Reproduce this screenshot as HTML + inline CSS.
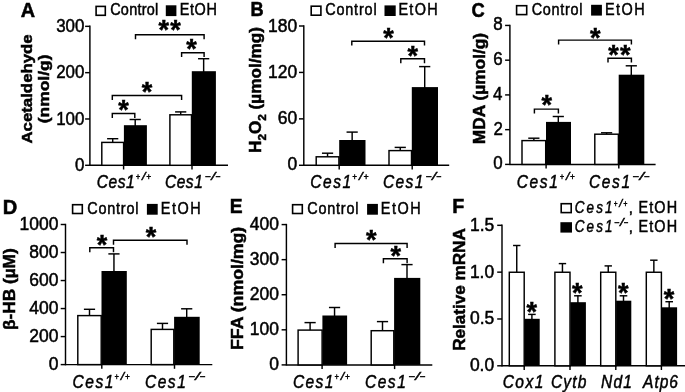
<!DOCTYPE html>
<html><head><meta charset="utf-8"><title>Figure</title>
<style>
html,body{margin:0;padding:0;background:#fff;}
svg{display:block;will-change:transform;}
text{font-family:"Liberation Sans",sans-serif;fill:#000;stroke:#000;stroke-width:0.5;}
.b{font-weight:bold;}
.i{font-style:italic;}
</style></head><body>
<svg width="685" height="392" viewBox="0 0 685 392" stroke="#000" fill="none">
<rect x="0" y="0" width="685" height="392" fill="#fff" stroke="none"/>
<text x="20.70" y="16.60" font-size="19.3" class="b" textLength="14.34" lengthAdjust="spacingAndGlyphs">A</text>
<rect x="96.10" y="6.40" width="9.20" height="8.90" fill="#fff" stroke-width="1.6"/>
<text transform="translate(110.18,15.20) scale(0.87,1)" font-size="16.6" letter-spacing="0.311">Control</text>
<rect x="166.60" y="6.10" width="9.00" height="9.20" fill="#000" stroke-width="1.6"/>
<text transform="translate(179.71,15.20) scale(0.87,1)" font-size="16.6" letter-spacing="0.717">EtOH</text>
<line x1="89.90" y1="25.62" x2="89.90" y2="166.03" stroke-width="1.45"/>
<line x1="85.10" y1="165.30" x2="89.90" y2="165.30" stroke-width="1.45"/>
<text x="75.04" y="171.10" font-size="18" textLength="9.41" lengthAdjust="spacingAndGlyphs">0</text>
<line x1="85.10" y1="118.98" x2="89.90" y2="118.98" stroke-width="1.45"/>
<text x="56.22" y="124.68" font-size="18" textLength="28.23" lengthAdjust="spacingAndGlyphs">100</text>
<line x1="85.10" y1="72.66" x2="89.90" y2="72.66" stroke-width="1.45"/>
<text x="56.22" y="78.26" font-size="18" textLength="28.23" lengthAdjust="spacingAndGlyphs">200</text>
<line x1="85.10" y1="26.34" x2="89.90" y2="26.34" stroke-width="1.45"/>
<text x="56.22" y="31.84" font-size="18" textLength="28.23" lengthAdjust="spacingAndGlyphs">300</text>
<line x1="89.90" y1="165.30" x2="228.00" y2="165.30" stroke-width="1.45"/>
<line x1="123.60" y1="165.30" x2="123.60" y2="169.50" stroke-width="1.45"/>
<line x1="192.00" y1="165.30" x2="192.00" y2="169.50" stroke-width="1.45"/>
<line x1="112.70" y1="138.70" x2="112.70" y2="143.30" stroke-width="1.45"/>
<line x1="107.10" y1="138.70" x2="118.30" y2="138.70" stroke-width="1.45"/>
<rect x="101.80" y="142.40" width="21.80" height="22.90" fill="#fff" stroke-width="1.45"/>
<line x1="135.20" y1="119.50" x2="135.20" y2="126.20" stroke-width="1.45"/>
<line x1="129.60" y1="119.50" x2="140.80" y2="119.50" stroke-width="1.45"/>
<rect x="123.90" y="125.20" width="23.00" height="40.10" fill="#000" stroke="none"/>
<line x1="180.70" y1="111.90" x2="180.70" y2="115.70" stroke-width="1.45"/>
<line x1="175.10" y1="111.90" x2="186.30" y2="111.90" stroke-width="1.45"/>
<rect x="169.90" y="114.80" width="21.60" height="50.50" fill="#fff" stroke-width="1.45"/>
<line x1="203.65" y1="58.70" x2="203.65" y2="72.20" stroke-width="1.45"/>
<line x1="198.05" y1="58.70" x2="209.25" y2="58.70" stroke-width="1.45"/>
<rect x="191.80" y="71.20" width="24.10" height="94.10" fill="#000" stroke="none"/>
<polyline points="135.50,39.20 135.50,34.80 204.10,34.80 204.10,39.20" fill="none" stroke-width="1.45"/>
<text x="163.80" y="39.40" font-size="27" class="b" text-anchor="middle" stroke-width="0.2">*</text>
<text x="175.60" y="39.40" font-size="27" class="b" text-anchor="middle" stroke-width="0.2">*</text>
<polyline points="181.60,57.10 181.60,52.70 204.10,52.70 204.10,57.10" fill="none" stroke-width="1.45"/>
<text x="191.40" y="58.30" font-size="27" class="b" text-anchor="middle" stroke-width="0.2">*</text>
<polyline points="112.30,99.90 112.30,95.50 181.60,95.50 181.60,99.90" fill="none" stroke-width="1.45"/>
<text x="147.00" y="101.10" font-size="27" class="b" text-anchor="middle" stroke-width="0.2">*</text>
<polyline points="112.30,117.90 112.30,113.50 134.80,113.50 134.80,117.90" fill="none" stroke-width="1.45"/>
<text x="123.40" y="119.10" font-size="27" class="b" text-anchor="middle" stroke-width="0.2">*</text>
<text transform="translate(96.74,187.50) scale(0.85,1)" font-size="18.3" class="i" letter-spacing="0.650">Ces1</text>
<text x="135.76" y="179.50" font-size="9.975" class="i" textLength="4.37" lengthAdjust="spacingAndGlyphs">+</text>
<text x="142.10" y="179.50" font-size="11.025" class="i" textLength="3.51" lengthAdjust="spacingAndGlyphs">/</text>
<text x="146.35" y="179.50" font-size="9.975" class="i" textLength="4.77" lengthAdjust="spacingAndGlyphs">+</text>
<text transform="translate(164.94,187.50) scale(0.85,1)" font-size="18.3" class="i" letter-spacing="0.610">Ces1</text>
<text x="204.85" y="179.50" font-size="9.975" class="i" textLength="5.70" lengthAdjust="spacingAndGlyphs">−</text>
<text x="211.27" y="179.50" font-size="11.025" class="i" textLength="4.10" lengthAdjust="spacingAndGlyphs">/</text>
<text x="215.17" y="179.50" font-size="9.975" class="i" textLength="4.94" lengthAdjust="spacingAndGlyphs">−</text>
<text transform="translate(31.60,143.57) rotate(-90)" font-size="15.5" class="b" textLength="109.27" lengthAdjust="spacingAndGlyphs">Acetaldehyde</text>
<text transform="translate(49.40,123.32) rotate(-90)" font-size="15.5" class="b" textLength="68.76" lengthAdjust="spacingAndGlyphs">(nmol/g)</text>
<text x="250.47" y="15.60" font-size="19.3" class="b" textLength="13.14" lengthAdjust="spacingAndGlyphs">B</text>
<rect x="311.20" y="6.20" width="9.70" height="9.00" fill="#fff" stroke-width="1.6"/>
<text transform="translate(325.18,15.40) scale(0.87,1)" font-size="16.6" letter-spacing="0.943">Control</text>
<rect x="385.30" y="6.20" width="9.60" height="9.00" fill="#000" stroke-width="1.6"/>
<text transform="translate(398.41,15.40) scale(0.87,1)" font-size="16.6" letter-spacing="1.484">EtOH</text>
<line x1="303.80" y1="25.27" x2="303.80" y2="166.03" stroke-width="1.45"/>
<line x1="299.00" y1="165.30" x2="303.80" y2="165.30" stroke-width="1.45"/>
<text x="287.46" y="170.40" font-size="18" textLength="9.71" lengthAdjust="spacingAndGlyphs">0</text>
<line x1="299.00" y1="118.87" x2="303.80" y2="118.87" stroke-width="1.45"/>
<text x="277.77" y="124.27" font-size="18" textLength="19.42" lengthAdjust="spacingAndGlyphs">60</text>
<line x1="299.00" y1="72.43" x2="303.80" y2="72.43" stroke-width="1.45"/>
<text x="268.04" y="78.13" font-size="18" textLength="29.13" lengthAdjust="spacingAndGlyphs">120</text>
<line x1="299.00" y1="26.00" x2="303.80" y2="26.00" stroke-width="1.45"/>
<text x="268.04" y="32.00" font-size="18" textLength="29.13" lengthAdjust="spacingAndGlyphs">180</text>
<line x1="303.80" y1="165.30" x2="449.20" y2="165.30" stroke-width="1.45"/>
<line x1="339.20" y1="165.30" x2="339.20" y2="169.50" stroke-width="1.45"/>
<line x1="412.20" y1="165.30" x2="412.20" y2="169.50" stroke-width="1.45"/>
<line x1="327.55" y1="153.20" x2="327.55" y2="157.70" stroke-width="1.45"/>
<line x1="321.95" y1="153.20" x2="333.15" y2="153.20" stroke-width="1.45"/>
<rect x="316.20" y="156.80" width="22.70" height="8.50" fill="#fff" stroke-width="1.45"/>
<line x1="352.15" y1="132.10" x2="352.15" y2="141.00" stroke-width="1.45"/>
<line x1="346.55" y1="132.10" x2="357.75" y2="132.10" stroke-width="1.45"/>
<rect x="339.20" y="140.00" width="26.30" height="25.30" fill="#000" stroke="none"/>
<line x1="400.25" y1="147.40" x2="400.25" y2="151.50" stroke-width="1.45"/>
<line x1="394.65" y1="147.40" x2="405.85" y2="147.40" stroke-width="1.45"/>
<rect x="389.00" y="150.60" width="22.50" height="14.70" fill="#fff" stroke-width="1.45"/>
<line x1="424.70" y1="66.60" x2="424.70" y2="88.10" stroke-width="1.45"/>
<line x1="419.10" y1="66.60" x2="430.30" y2="66.60" stroke-width="1.45"/>
<rect x="411.80" y="87.10" width="26.20" height="78.20" fill="#000" stroke="none"/>
<polyline points="351.80,45.60 351.80,41.20 424.50,41.20 424.50,45.60" fill="none" stroke-width="1.45"/>
<text x="388.50" y="47.20" font-size="27" class="b" text-anchor="middle" stroke-width="0.2">*</text>
<polyline points="400.80,63.20 400.80,58.80 424.50,58.80 424.50,63.20" fill="none" stroke-width="1.45"/>
<text x="412.80" y="65.00" font-size="27" class="b" text-anchor="middle" stroke-width="0.2">*</text>
<text transform="translate(310.34,187.50) scale(0.85,1)" font-size="18.3" class="i" letter-spacing="1.787">Ces1</text>
<text x="352.35" y="179.50" font-size="9.975" class="i" textLength="4.64" lengthAdjust="spacingAndGlyphs">+</text>
<text x="359.01" y="179.50" font-size="11.025" class="i" textLength="3.71" lengthAdjust="spacingAndGlyphs">/</text>
<text x="363.44" y="179.50" font-size="9.975" class="i" textLength="5.06" lengthAdjust="spacingAndGlyphs">+</text>
<text transform="translate(382.94,187.50) scale(0.85,1)" font-size="18.3" class="i" letter-spacing="1.630">Ces1</text>
<text x="425.46" y="179.50" font-size="9.975" class="i" textLength="5.87" lengthAdjust="spacingAndGlyphs">−</text>
<text x="432.04" y="179.50" font-size="11.025" class="i" textLength="4.22" lengthAdjust="spacingAndGlyphs">/</text>
<text x="436.04" y="179.50" font-size="9.975" class="i" textLength="5.09" lengthAdjust="spacingAndGlyphs">−</text>
<text transform="translate(261.3,153.0) scale(1,1.0740) rotate(-90)" font-size="16" class="b">H<tspan font-size="10.88" dy="4.6">2</tspan><tspan dy="-4.6">O</tspan><tspan font-size="10.88" dy="4.6">2</tspan><tspan dy="-4.6"> (µmol/mg)</tspan></text>
<text x="471.47" y="16.50" font-size="19.3" class="b" textLength="13.23" lengthAdjust="spacingAndGlyphs">C</text>
<rect x="516.60" y="5.70" width="10.10" height="8.90" fill="#fff" stroke-width="1.6"/>
<text transform="translate(531.68,14.60) scale(0.87,1)" font-size="16.6" letter-spacing="0.809">Control</text>
<rect x="591.90" y="5.60" width="9.20" height="9.20" fill="#000" stroke-width="1.6"/>
<text transform="translate(605.01,14.60) scale(0.87,1)" font-size="16.6" letter-spacing="1.675">EtOH</text>
<line x1="509.90" y1="24.71" x2="509.90" y2="165.12" stroke-width="1.45"/>
<line x1="505.10" y1="164.40" x2="509.90" y2="164.40" stroke-width="1.45"/>
<text x="493.24" y="169.40" font-size="18" textLength="9.41" lengthAdjust="spacingAndGlyphs">0</text>
<line x1="505.10" y1="129.66" x2="509.90" y2="129.66" stroke-width="1.45"/>
<text x="493.46" y="134.66" font-size="18" textLength="9.41" lengthAdjust="spacingAndGlyphs">2</text>
<line x1="505.10" y1="94.92" x2="509.90" y2="94.92" stroke-width="1.45"/>
<text x="493.07" y="99.92" font-size="18" textLength="9.41" lengthAdjust="spacingAndGlyphs">4</text>
<line x1="505.10" y1="60.18" x2="509.90" y2="60.18" stroke-width="1.45"/>
<text x="493.33" y="65.18" font-size="18" textLength="9.41" lengthAdjust="spacingAndGlyphs">6</text>
<line x1="505.10" y1="25.44" x2="509.90" y2="25.44" stroke-width="1.45"/>
<text x="493.33" y="30.44" font-size="18" textLength="9.41" lengthAdjust="spacingAndGlyphs">8</text>
<line x1="509.90" y1="164.40" x2="655.60" y2="164.40" stroke-width="1.45"/>
<line x1="546.10" y1="164.40" x2="546.10" y2="168.60" stroke-width="1.45"/>
<line x1="618.80" y1="164.40" x2="618.80" y2="168.60" stroke-width="1.45"/>
<line x1="533.85" y1="138.20" x2="533.85" y2="141.50" stroke-width="1.45"/>
<line x1="528.25" y1="138.20" x2="539.45" y2="138.20" stroke-width="1.45"/>
<rect x="522.00" y="140.60" width="23.70" height="23.80" fill="#fff" stroke-width="1.45"/>
<line x1="558.30" y1="116.50" x2="558.30" y2="122.90" stroke-width="1.45"/>
<line x1="552.70" y1="116.50" x2="563.90" y2="116.50" stroke-width="1.45"/>
<rect x="546.00" y="121.90" width="25.00" height="42.50" fill="#000" stroke="none"/>
<line x1="606.60" y1="132.80" x2="606.60" y2="135.10" stroke-width="1.45"/>
<line x1="601.00" y1="132.80" x2="612.20" y2="132.80" stroke-width="1.45"/>
<rect x="594.80" y="134.20" width="23.60" height="30.20" fill="#fff" stroke-width="1.45"/>
<line x1="631.30" y1="65.80" x2="631.30" y2="75.70" stroke-width="1.45"/>
<line x1="625.70" y1="65.80" x2="636.90" y2="65.80" stroke-width="1.45"/>
<rect x="618.70" y="74.70" width="25.60" height="89.70" fill="#000" stroke="none"/>
<polyline points="558.60,44.50 558.60,40.10 631.40,40.10 631.40,44.50" fill="none" stroke-width="1.45"/>
<text x="595.20" y="46.60" font-size="27" class="b" text-anchor="middle" stroke-width="0.2">*</text>
<polyline points="608.00,62.60 608.00,58.20 631.40,58.20 631.40,62.60" fill="none" stroke-width="1.45"/>
<text x="613.50" y="63.80" font-size="27" class="b" text-anchor="middle" stroke-width="0.2">*</text>
<text x="625.30" y="63.80" font-size="27" class="b" text-anchor="middle" stroke-width="0.2">*</text>
<polyline points="534.40,113.50 534.40,109.10 558.40,109.10 558.40,113.50" fill="none" stroke-width="1.45"/>
<text x="546.70" y="114.20" font-size="27" class="b" text-anchor="middle" stroke-width="0.2">*</text>
<text transform="translate(516.64,187.60) scale(0.85,1)" font-size="18.3" class="i" letter-spacing="1.944">Ces1</text>
<text x="559.67" y="179.60" font-size="9.975" class="i" textLength="4.30" lengthAdjust="spacingAndGlyphs">+</text>
<text x="565.93" y="179.60" font-size="11.025" class="i" textLength="3.46" lengthAdjust="spacingAndGlyphs">/</text>
<text x="570.12" y="179.60" font-size="9.975" class="i" textLength="4.70" lengthAdjust="spacingAndGlyphs">+</text>
<text transform="translate(588.94,187.60) scale(0.85,1)" font-size="18.3" class="i" letter-spacing="1.905">Ces1</text>
<text x="632.37" y="179.60" font-size="9.975" class="i" textLength="6.35" lengthAdjust="spacingAndGlyphs">−</text>
<text x="639.42" y="179.60" font-size="11.025" class="i" textLength="4.55" lengthAdjust="spacingAndGlyphs">/</text>
<text x="643.66" y="179.60" font-size="9.975" class="i" textLength="5.51" lengthAdjust="spacingAndGlyphs">−</text>
<text transform="translate(484.70,144.22) rotate(-90)" font-size="16" class="b" textLength="111.33" lengthAdjust="spacingAndGlyphs">MDA (µmol/g)</text>
<text x="2.74" y="214.00" font-size="19.3" class="b" textLength="14.50" lengthAdjust="spacingAndGlyphs">D</text>
<rect x="72.60" y="204.70" width="9.70" height="8.80" fill="#fff" stroke-width="1.6"/>
<text transform="translate(87.28,213.60) scale(0.87,1)" font-size="16.6" letter-spacing="0.885">Control</text>
<rect x="147.70" y="204.70" width="9.20" height="9.20" fill="#000" stroke-width="1.6"/>
<text transform="translate(160.81,213.60) scale(0.87,1)" font-size="16.6" letter-spacing="1.752">EtOH</text>
<line x1="65.50" y1="223.78" x2="65.50" y2="365.33" stroke-width="1.45"/>
<line x1="60.70" y1="364.60" x2="65.50" y2="364.60" stroke-width="1.45"/>
<text x="48.66" y="370.20" font-size="18" textLength="9.71" lengthAdjust="spacingAndGlyphs">0</text>
<line x1="60.70" y1="336.58" x2="65.50" y2="336.58" stroke-width="1.45"/>
<text x="29.24" y="342.10" font-size="18" textLength="29.13" lengthAdjust="spacingAndGlyphs">200</text>
<line x1="60.70" y1="308.56" x2="65.50" y2="308.56" stroke-width="1.45"/>
<text x="29.24" y="314.00" font-size="18" textLength="29.13" lengthAdjust="spacingAndGlyphs">400</text>
<line x1="60.70" y1="280.54" x2="65.50" y2="280.54" stroke-width="1.45"/>
<text x="29.24" y="285.90" font-size="18" textLength="29.13" lengthAdjust="spacingAndGlyphs">600</text>
<line x1="60.70" y1="252.52" x2="65.50" y2="252.52" stroke-width="1.45"/>
<text x="29.24" y="257.80" font-size="18" textLength="29.13" lengthAdjust="spacingAndGlyphs">800</text>
<line x1="60.70" y1="224.50" x2="65.50" y2="224.50" stroke-width="1.45"/>
<text x="19.55" y="229.70" font-size="18" textLength="38.84" lengthAdjust="spacingAndGlyphs">1000</text>
<line x1="65.50" y1="364.60" x2="212.30" y2="364.60" stroke-width="1.45"/>
<line x1="101.80" y1="364.60" x2="101.80" y2="368.80" stroke-width="1.45"/>
<line x1="174.50" y1="364.60" x2="174.50" y2="368.80" stroke-width="1.45"/>
<line x1="89.50" y1="309.30" x2="89.50" y2="316.50" stroke-width="1.45"/>
<line x1="83.90" y1="309.30" x2="95.10" y2="309.30" stroke-width="1.45"/>
<rect x="77.80" y="315.60" width="23.40" height="49.00" fill="#fff" stroke-width="1.45"/>
<line x1="113.95" y1="253.90" x2="113.95" y2="272.00" stroke-width="1.45"/>
<line x1="108.35" y1="253.90" x2="119.55" y2="253.90" stroke-width="1.45"/>
<rect x="101.50" y="271.00" width="25.30" height="93.60" fill="#000" stroke="none"/>
<line x1="162.50" y1="323.40" x2="162.50" y2="330.30" stroke-width="1.45"/>
<line x1="156.90" y1="323.40" x2="168.10" y2="323.40" stroke-width="1.45"/>
<rect x="151.20" y="329.40" width="22.60" height="35.20" fill="#fff" stroke-width="1.45"/>
<line x1="186.70" y1="308.80" x2="186.70" y2="317.80" stroke-width="1.45"/>
<line x1="181.10" y1="308.80" x2="192.30" y2="308.80" stroke-width="1.45"/>
<rect x="174.10" y="316.80" width="25.60" height="47.80" fill="#000" stroke="none"/>
<polyline points="89.80,252.20 89.80,247.80 113.50,247.80 113.50,252.20" fill="none" stroke-width="1.45"/>
<text x="102.10" y="253.70" font-size="27" class="b" text-anchor="middle" stroke-width="0.2">*</text>
<polyline points="113.50,244.70 113.50,240.30 187.00,240.30 187.00,244.70" fill="none" stroke-width="1.45"/>
<text x="151.10" y="246.00" font-size="27" class="b" text-anchor="middle" stroke-width="0.2">*</text>
<text transform="translate(72.54,387.60) scale(0.85,1)" font-size="18.3" class="i" letter-spacing="1.787">Ces1</text>
<text x="114.57" y="379.60" font-size="9.975" class="i" textLength="4.30" lengthAdjust="spacingAndGlyphs">+</text>
<text x="120.83" y="379.60" font-size="11.025" class="i" textLength="3.46" lengthAdjust="spacingAndGlyphs">/</text>
<text x="125.02" y="379.60" font-size="9.975" class="i" textLength="4.70" lengthAdjust="spacingAndGlyphs">+</text>
<text transform="translate(144.94,387.60) scale(0.85,1)" font-size="18.3" class="i" letter-spacing="1.787">Ces1</text>
<text x="188.17" y="379.60" font-size="9.975" class="i" textLength="6.39" lengthAdjust="spacingAndGlyphs">−</text>
<text x="195.26" y="379.60" font-size="11.025" class="i" textLength="4.58" lengthAdjust="spacingAndGlyphs">/</text>
<text x="199.53" y="379.60" font-size="9.975" class="i" textLength="5.55" lengthAdjust="spacingAndGlyphs">−</text>
<text transform="translate(14.60,329.96) rotate(-90)" font-size="16" class="b" textLength="81.68" lengthAdjust="spacingAndGlyphs">β-HB (µM)</text>
<text x="229.80" y="213.00" font-size="19.3" class="b" textLength="12.86" lengthAdjust="spacingAndGlyphs">E</text>
<rect x="292.60" y="204.70" width="9.70" height="8.80" fill="#fff" stroke-width="1.6"/>
<text transform="translate(307.28,213.70) scale(0.87,1)" font-size="16.6" letter-spacing="0.885">Control</text>
<rect x="367.90" y="204.70" width="9.20" height="9.20" fill="#000" stroke-width="1.6"/>
<text transform="translate(380.81,213.70) scale(0.87,1)" font-size="16.6" letter-spacing="1.752">EtOH</text>
<line x1="286.40" y1="223.85" x2="286.40" y2="365.62" stroke-width="1.45"/>
<line x1="281.60" y1="364.90" x2="286.40" y2="364.90" stroke-width="1.45"/>
<text x="269.26" y="370.30" font-size="18" textLength="9.71" lengthAdjust="spacingAndGlyphs">0</text>
<line x1="281.60" y1="329.82" x2="286.40" y2="329.82" stroke-width="1.45"/>
<text x="249.84" y="335.22" font-size="18" textLength="29.13" lengthAdjust="spacingAndGlyphs">100</text>
<line x1="281.60" y1="294.74" x2="286.40" y2="294.74" stroke-width="1.45"/>
<text x="249.84" y="300.14" font-size="18" textLength="29.13" lengthAdjust="spacingAndGlyphs">200</text>
<line x1="281.60" y1="259.66" x2="286.40" y2="259.66" stroke-width="1.45"/>
<text x="249.84" y="265.06" font-size="18" textLength="29.13" lengthAdjust="spacingAndGlyphs">300</text>
<line x1="281.60" y1="224.58" x2="286.40" y2="224.58" stroke-width="1.45"/>
<text x="249.84" y="229.98" font-size="18" textLength="29.13" lengthAdjust="spacingAndGlyphs">400</text>
<line x1="286.40" y1="364.90" x2="432.30" y2="364.90" stroke-width="1.45"/>
<line x1="322.10" y1="364.90" x2="322.10" y2="369.10" stroke-width="1.45"/>
<line x1="394.60" y1="364.90" x2="394.60" y2="369.10" stroke-width="1.45"/>
<line x1="310.10" y1="322.60" x2="310.10" y2="331.00" stroke-width="1.45"/>
<line x1="304.50" y1="322.60" x2="315.70" y2="322.60" stroke-width="1.45"/>
<rect x="298.10" y="330.10" width="24.00" height="34.80" fill="#fff" stroke-width="1.45"/>
<line x1="334.55" y1="307.50" x2="334.55" y2="316.50" stroke-width="1.45"/>
<line x1="328.95" y1="307.50" x2="340.15" y2="307.50" stroke-width="1.45"/>
<rect x="322.40" y="315.50" width="24.70" height="49.40" fill="#000" stroke="none"/>
<line x1="382.50" y1="321.60" x2="382.50" y2="331.60" stroke-width="1.45"/>
<line x1="376.90" y1="321.60" x2="388.10" y2="321.60" stroke-width="1.45"/>
<rect x="371.20" y="330.70" width="22.60" height="34.20" fill="#fff" stroke-width="1.45"/>
<line x1="407.00" y1="264.60" x2="407.00" y2="278.90" stroke-width="1.45"/>
<line x1="401.40" y1="264.60" x2="412.60" y2="264.60" stroke-width="1.45"/>
<rect x="394.10" y="277.90" width="26.20" height="87.00" fill="#000" stroke="none"/>
<polyline points="335.10,247.90 335.10,243.50 407.10,243.50 407.10,247.90" fill="none" stroke-width="1.45"/>
<text x="371.20" y="249.30" font-size="27" class="b" text-anchor="middle" stroke-width="0.2">*</text>
<polyline points="383.40,263.20 383.40,258.80 407.10,258.80 407.10,263.20" fill="none" stroke-width="1.45"/>
<text x="395.70" y="264.60" font-size="27" class="b" text-anchor="middle" stroke-width="0.2">*</text>
<text transform="translate(292.94,387.60) scale(0.85,1)" font-size="18.3" class="i" letter-spacing="1.630">Ces1</text>
<text x="334.57" y="379.60" font-size="9.975" class="i" textLength="4.30" lengthAdjust="spacingAndGlyphs">+</text>
<text x="340.83" y="379.60" font-size="11.025" class="i" textLength="3.46" lengthAdjust="spacingAndGlyphs">/</text>
<text x="345.02" y="379.60" font-size="9.975" class="i" textLength="4.70" lengthAdjust="spacingAndGlyphs">+</text>
<text transform="translate(364.94,387.60) scale(0.85,1)" font-size="18.3" class="i" letter-spacing="1.787">Ces1</text>
<text x="408.17" y="379.60" font-size="9.975" class="i" textLength="6.39" lengthAdjust="spacingAndGlyphs">−</text>
<text x="415.26" y="379.60" font-size="11.025" class="i" textLength="4.58" lengthAdjust="spacingAndGlyphs">/</text>
<text x="419.53" y="379.60" font-size="9.975" class="i" textLength="5.55" lengthAdjust="spacingAndGlyphs">−</text>
<text transform="translate(243.10,349.94) rotate(-90)" font-size="16.5" class="b" textLength="123.17" lengthAdjust="spacingAndGlyphs">FFA (nmol/mg)</text>
<text x="452.37" y="213.10" font-size="19.3" class="b" textLength="12.04" lengthAdjust="spacingAndGlyphs">F</text>
<rect x="561.20" y="203.70" width="10.00" height="8.90" fill="#fff" stroke-width="1.6"/>
<text transform="translate(574.66,213.00) scale(0.84,1)" font-size="16" class="i" letter-spacing="2.579">Ces1</text>
<text x="613.79" y="207.20" font-size="9.31" class="i" textLength="3.73" lengthAdjust="spacingAndGlyphs">+</text>
<text x="619.38" y="207.20" font-size="10.290000000000001" class="i" textLength="3.03" lengthAdjust="spacingAndGlyphs">/</text>
<text x="623.16" y="207.20" font-size="9.31" class="i" textLength="4.08" lengthAdjust="spacingAndGlyphs">+</text>
<text x="628.80" y="213.00" font-size="15">,</text>
<text transform="translate(638.41,213.00) scale(0.9,1)" font-size="16" letter-spacing="1.284">EtOH</text>
<rect x="561.20" y="223.00" width="10.00" height="8.80" fill="#000" stroke-width="1.6"/>
<text transform="translate(574.66,232.20) scale(0.84,1)" font-size="16" class="i" letter-spacing="2.579">Ces1</text>
<text x="614.23" y="226.40" font-size="9.31" class="i" textLength="5.14" lengthAdjust="spacingAndGlyphs">−</text>
<text x="620.11" y="226.40" font-size="10.290000000000001" class="i" textLength="3.71" lengthAdjust="spacingAndGlyphs">/</text>
<text x="623.72" y="226.40" font-size="9.31" class="i" textLength="4.44" lengthAdjust="spacingAndGlyphs">−</text>
<text x="628.80" y="232.20" font-size="15">,</text>
<text transform="translate(638.41,232.20) scale(0.9,1)" font-size="16" letter-spacing="1.284">EtOH</text>
<line x1="502.00" y1="224.60" x2="502.00" y2="366.53" stroke-width="1.45"/>
<line x1="497.20" y1="365.80" x2="502.00" y2="365.80" stroke-width="1.45"/>
<text x="469.89" y="371.00" font-size="18" textLength="24.27" lengthAdjust="spacingAndGlyphs">0.0</text>
<line x1="497.20" y1="318.98" x2="502.00" y2="318.98" stroke-width="1.45"/>
<text x="469.93" y="324.44" font-size="18" textLength="24.27" lengthAdjust="spacingAndGlyphs">0.5</text>
<line x1="497.20" y1="272.15" x2="502.00" y2="272.15" stroke-width="1.45"/>
<text x="469.89" y="277.88" font-size="18" textLength="24.27" lengthAdjust="spacingAndGlyphs">1.0</text>
<line x1="497.20" y1="225.32" x2="502.00" y2="225.32" stroke-width="1.45"/>
<text x="469.93" y="231.32" font-size="18" textLength="24.27" lengthAdjust="spacingAndGlyphs">1.5</text>
<line x1="502.00" y1="365.80" x2="685.00" y2="365.80" stroke-width="1.45"/>
<line x1="524.20" y1="365.80" x2="524.20" y2="370.00" stroke-width="1.45"/>
<line x1="570.00" y1="365.80" x2="570.00" y2="370.00" stroke-width="1.45"/>
<line x1="615.80" y1="365.80" x2="615.80" y2="370.00" stroke-width="1.45"/>
<line x1="661.40" y1="365.80" x2="661.40" y2="370.00" stroke-width="1.45"/>
<line x1="516.75" y1="245.50" x2="516.75" y2="273.15" stroke-width="1.45"/>
<line x1="513.05" y1="245.50" x2="520.45" y2="245.50" stroke-width="1.45"/>
<rect x="509.30" y="272.25" width="14.90" height="93.55" fill="#fff" stroke-width="1.45"/>
<line x1="531.90" y1="314.40" x2="531.90" y2="319.80" stroke-width="1.45"/>
<line x1="528.10" y1="314.40" x2="535.70" y2="314.40" stroke-width="1.45"/>
<rect x="524.50" y="318.80" width="15.20" height="47.00" fill="#000" stroke="none"/>
<text x="531.80" y="321.10" font-size="27" class="b" text-anchor="middle" stroke-width="0.2">*</text>
<line x1="562.45" y1="263.60" x2="562.45" y2="273.15" stroke-width="1.45"/>
<line x1="558.75" y1="263.60" x2="566.15" y2="263.60" stroke-width="1.45"/>
<rect x="554.90" y="272.25" width="15.10" height="93.55" fill="#fff" stroke-width="1.45"/>
<line x1="577.90" y1="295.80" x2="577.90" y2="303.20" stroke-width="1.45"/>
<line x1="574.10" y1="295.80" x2="581.70" y2="295.80" stroke-width="1.45"/>
<rect x="570.30" y="302.20" width="15.60" height="63.60" fill="#000" stroke="none"/>
<text x="577.30" y="302.40" font-size="27" class="b" text-anchor="middle" stroke-width="0.2">*</text>
<line x1="608.25" y1="265.90" x2="608.25" y2="273.15" stroke-width="1.45"/>
<line x1="604.55" y1="265.90" x2="611.95" y2="265.90" stroke-width="1.45"/>
<rect x="600.70" y="272.25" width="15.10" height="93.55" fill="#fff" stroke-width="1.45"/>
<line x1="623.50" y1="295.80" x2="623.50" y2="301.70" stroke-width="1.45"/>
<line x1="619.70" y1="295.80" x2="627.30" y2="295.80" stroke-width="1.45"/>
<rect x="616.10" y="300.70" width="15.20" height="65.10" fill="#000" stroke="none"/>
<text x="623.20" y="301.90" font-size="27" class="b" text-anchor="middle" stroke-width="0.2">*</text>
<line x1="653.85" y1="260.20" x2="653.85" y2="273.15" stroke-width="1.45"/>
<line x1="650.15" y1="260.20" x2="657.55" y2="260.20" stroke-width="1.45"/>
<rect x="646.30" y="272.25" width="15.10" height="93.55" fill="#fff" stroke-width="1.45"/>
<line x1="669.20" y1="301.70" x2="669.20" y2="308.30" stroke-width="1.45"/>
<line x1="665.40" y1="301.70" x2="673.00" y2="301.70" stroke-width="1.45"/>
<rect x="661.70" y="307.30" width="15.40" height="58.50" fill="#000" stroke="none"/>
<text x="669.10" y="307.70" font-size="27" class="b" text-anchor="middle" stroke-width="0.2">*</text>
<text transform="translate(502.64,387.70) scale(0.85,1)" font-size="18.3" class="i" letter-spacing="1.748">Cox1</text>
<text transform="translate(550.94,387.70) scale(0.85,1)" font-size="18.3" class="i" letter-spacing="1.356">Cytb</text>
<text transform="translate(600.93,387.70) scale(0.85,1)" font-size="18.3" class="i" letter-spacing="1.438">Nd1</text>
<text transform="translate(643.08,387.70) scale(0.85,1)" font-size="18.3" class="i" letter-spacing="1.120">Atp6</text>
<text transform="translate(465.20,350.80) rotate(-90)" font-size="17" class="b" textLength="122.61" lengthAdjust="spacingAndGlyphs">Relative mRNA</text>
</svg>
</body></html>
